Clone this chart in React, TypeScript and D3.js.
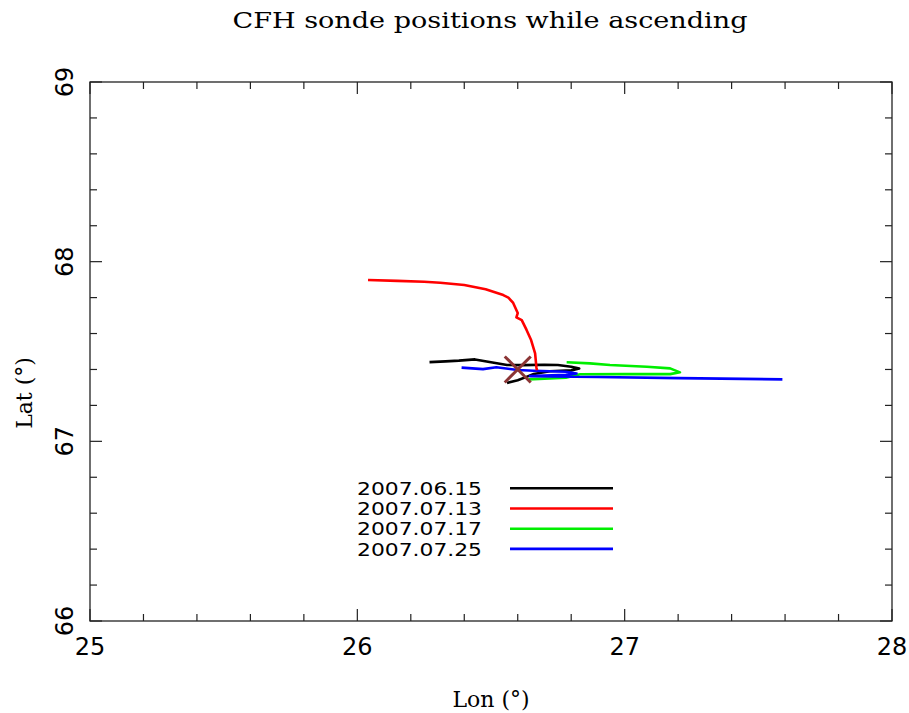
import React from "react";
import * as d3 from "d3";

const title = "CFH sonde positions while ascending";
const xLabel = "Lon (°)";
const yLabel = "Lat (°)";
const xTicks = [25, 26, 27, 28];
const yTicks = [66, 67, 68, 69];

const dates = ["2007.06.15", "2007.07.13", "2007.07.17", "2007.07.25"];
const colors = ["#000000", "#ff0000", "#00ee00", "#0000ff"];

const blackLon = [26.27, 26.33, 26.38, 26.44, 26.5, 26.56, 26.62, 26.7, 26.75, 26.8, 26.83, 26.8, 26.72, 26.66, 26.635, 26.6, 26.56];
const blackLat = [67.441, 67.445, 67.449, 67.456, 67.44, 67.425, 67.424, 67.426, 67.425, 67.415, 67.405, 67.395, 67.39, 67.375, 67.36, 67.34, 67.325];

const redLon = [26.04, 26.15, 26.25, 26.31, 26.4, 26.48, 26.546, 26.565, 26.583, 26.6, 26.595, 26.615, 26.633, 26.65, 26.665, 26.67, 26.672];
const redLat = [67.898, 67.893, 67.888, 67.883, 67.87, 67.846, 67.814, 67.8, 67.77, 67.714, 67.69, 67.675, 67.62, 67.564, 67.49, 67.41, 67.395];

const greenLon = [26.64, 26.78, 26.833, 27.0, 27.17, 27.207, 27.17, 27.083, 26.945, 26.87, 26.783];
const greenLat = [67.345, 67.354, 67.373, 67.374, 67.374, 67.384, 67.406, 67.415, 67.425, 67.434, 67.44];

const blueLon = [26.39, 26.47, 26.52, 26.6, 26.66, 26.78, 26.82, 26.78, 26.7, 26.646, 26.9, 27.2, 27.59];
const blueLat = [67.41, 67.402, 67.412, 67.397, 67.393, 67.387, 67.378, 67.37, 67.366, 67.363, 67.358, 67.352, 67.345];

const siteLon = 26.6;
const siteLat = 67.4;

const tracks = [
  { lon: blackLon, lat: blackLat, color: colors[0] },
  { lon: greenLon, lat: greenLat, color: colors[2] },
  { lon: blueLon, lat: blueLat, color: colors[3] },
  { lon: redLon, lat: redLat, color: colors[1] },
];

export default function App() {
  const W = 909, H = 713;
  const L = 90, R = 892, T = 82, B = 621;
  const x = d3.scaleLinear().domain([25, 28]).range([L, R]);
  const y = d3.scaleLinear().domain([66, 69]).range([B, T]);
  const line = d3.line<[number, number]>().x((d) => x(d[0])).y((d) => y(d[1]));

  const minorX = d3.range(25, 28.001, 0.2);
  const minorY = d3.range(66, 69.001, 0.2);
  const isMajor = (v: number) => Math.abs(v - Math.round(v)) < 1e-6;

  const num = "'DejaVu Sans', sans-serif";
  const serif = "'DejaVu Serif', serif";

  return (
    <svg width={W} height={H} style={{ position: "absolute", left: 0, top: 0, background: "#fff" }}>
      <rect x={0} y={0} width={W} height={H} fill="#fff" />
      <text x={490} y={28} textAnchor="middle" fontFamily={serif} fontSize={22} fill="#000" textLength={515} lengthAdjust="spacingAndGlyphs">{title}</text>

      {/* frame */}
      <rect x={L} y={T} width={R - L} height={B - T} fill="none" stroke="#222" strokeWidth={1.3} />
      {minorX.map((v, i) => {
        const len = isMajor(v) ? 12 : 7;
        return (
          <g key={"tx" + i}>
            <line x1={x(v)} x2={x(v)} y1={B} y2={B - len} stroke="#222" strokeWidth={1.2} />
            <line x1={x(v)} x2={x(v)} y1={T} y2={T + len} stroke="#222" strokeWidth={1.2} />
          </g>
        );
      })}
      {minorY.map((v, i) => {
        const len = isMajor(v) ? 12 : 7;
        return (
          <g key={"ty" + i}>
            <line x1={L} x2={L + len} y1={y(v)} y2={y(v)} stroke="#222" strokeWidth={1.2} />
            <line x1={R} x2={R - len} y1={y(v)} y2={y(v)} stroke="#222" strokeWidth={1.2} />
          </g>
        );
      })}
      {xTicks.map((v) => (
        <text key={"xl" + v} x={x(v)} y={655} textAnchor="middle" fontFamily={num} fontSize={24} fill="#000">{v}</text>
      ))}
      {yTicks.map((v) => (
        <text key={"yl" + v} transform={`translate(73,${y(v)}) rotate(-90)`} textAnchor="middle" fontFamily={num} fontSize={24} fill="#000">{v}</text>
      ))}
      <text x={491} y={707} textAnchor="middle" fontFamily={serif} fontSize={22} fill="#000">{xLabel}</text>
      <text transform={`translate(32,393) rotate(-90)`} textAnchor="middle" fontFamily={serif} fontSize={22} fill="#000">{yLabel}</text>

      {/* tracks */}
      {tracks.map((t, i) => (
        <path key={"tr" + i} d={line(t.lon.map((v, j) => [v, t.lat[j]] as [number, number])) || ""} fill="none" stroke={t.color} strokeWidth={2.6} strokeLinejoin="round" />
      ))}
      {/* launch site marker */}
      <g stroke="#8b3535" strokeWidth={3}>
        <line x1={x(siteLon) - 13} x2={x(siteLon) + 13} y1={y(siteLat) - 13} y2={y(siteLat) + 13} />
        <line x1={x(siteLon) - 13} x2={x(siteLon) + 13} y1={y(siteLat) + 13} y2={y(siteLat) - 13} />
      </g>

      {/* legend */}
      {dates.map((d, i) => (
        <g key={"lg" + i}>
          <text x={482} y={495 + i * 20.2} textAnchor="end" fontFamily={num} fontSize={17} fill="#000" textLength={125} lengthAdjust="spacingAndGlyphs">{d}</text>
          <line x1={510} x2={613} y1={488.3 + i * 20.2} y2={488.3 + i * 20.2} stroke={colors[i]} strokeWidth={2.6} />
        </g>
      ))}
    </svg>
  );
}
